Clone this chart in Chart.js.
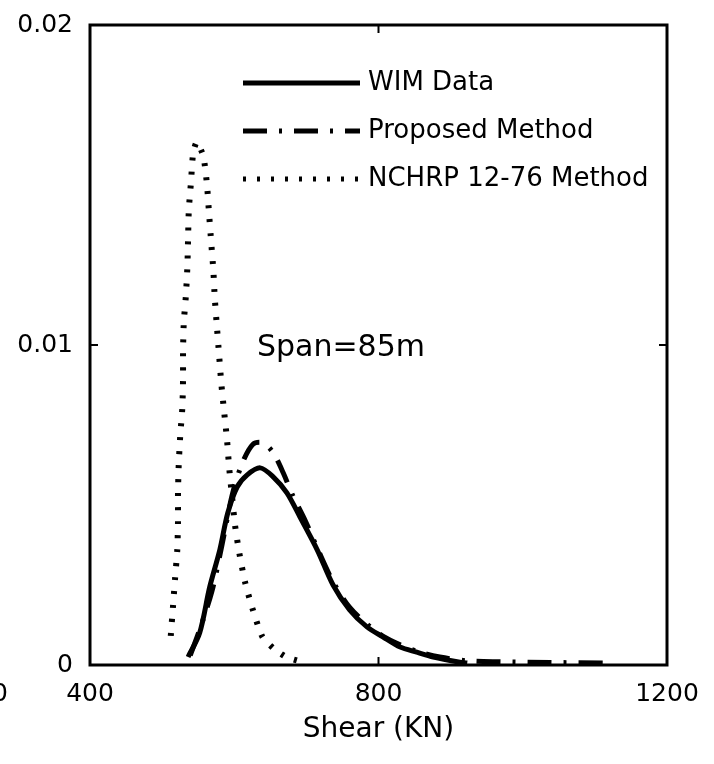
<!DOCTYPE html>
<html>
<head>
<meta charset="utf-8">
<script src="https://cdn.jsdelivr.net/npm/chart.js@4.4.1/dist/chart.umd.min.js"></script>
<style>
  html, body { margin: 0; padding: 0; background: #fff; }
</style>
</head>
<body>
<canvas id="myChart" width="714" height="764"></canvas>
<script>
// values
const shearTicks = [400, 800, 1200];
const densityTicks = [0, 0.01, 0.02];

const wimX = [536, 552, 566, 580, 591, 604, 618, 636, 654, 673, 691, 715, 737, 760, 784, 806, 830, 853, 876, 909, 923];
const wimY = [0.00025, 0.001, 0.00244, 0.0036, 0.00475, 0.00556, 0.00594, 0.00616, 0.00588, 0.00538, 0.00463, 0.0036, 0.0025, 0.00172, 0.00119, 0.00088, 0.00056, 0.0004, 0.00025, 0.0001, 0.00006];

const propX = [539, 552, 569, 583, 597, 611, 626, 640, 654, 668, 681, 698, 715, 737, 760, 784, 806, 830, 857, 885, 923, 968, 1038, 1116];
const propY = [0.0003, 0.0011, 0.0023, 0.00375, 0.0053, 0.0063, 0.0069, 0.00694, 0.00663, 0.006, 0.0053, 0.00453, 0.00366, 0.0026, 0.0018, 0.00128, 0.0009, 0.00063, 0.0004, 0.00025, 0.00013, 0.0001, 0.00008, 0.00006];

const nchrpX = [512, 515, 518, 521, 522, 522, 523, 525, 528, 529, 529, 530, 533, 535, 536, 537, 540, 543, 548, 557, 562, 565, 568, 571, 573, 576, 579, 582, 586, 590, 593, 597, 601, 607, 615, 625, 639, 654, 672, 693];
const nchrpY = [0.00091, 0.00181, 0.00272, 0.00359, 0.00447, 0.00538, 0.00625, 0.00713, 0.00803, 0.00891, 0.00978, 0.01069, 0.01156, 0.01244, 0.01334, 0.01422, 0.01509, 0.016, 0.01634, 0.01591, 0.01506, 0.01413, 0.01322, 0.01234, 0.01147, 0.01056, 0.00969, 0.00881, 0.00791, 0.00703, 0.00616, 0.00525, 0.00438, 0.0035, 0.00259, 0.00178, 0.00088, 0.00053, 0.00025, 0.0001];

const seriesNames = ["WIM Data", "Proposed Method", "NCHRP 12-76 Method"];
const noteText = "Span=85m";

function pts(xs, ys) { return xs.map((x, i) => ({x: x, y: ys[i]})); }

const FONT = "'DejaVu Sans'";

// frame, inner ticks, legend and note
const decor = {
  id: 'decor',
  afterDraw(chart) {
    const {ctx, chartArea: a, scales: {x, y}} = chart;
    ctx.save();
    ctx.strokeStyle = '#000';
    ctx.lineWidth = 3;
    ctx.strokeRect(a.left, a.top, a.right - a.left, a.bottom - a.top);

    ctx.lineWidth = 2;
    const ty = y.getPixelForValue(densityTicks[1]);
    const tx = x.getPixelForValue(shearTicks[1]);
    ctx.beginPath();
    ctx.moveTo(a.left, ty); ctx.lineTo(a.left + 8, ty);
    ctx.moveTo(a.right, ty); ctx.lineTo(a.right - 8, ty);
    ctx.moveTo(tx, a.top); ctx.lineTo(tx, a.top + 8);
    ctx.moveTo(tx, a.bottom); ctx.lineTo(tx, a.bottom - 8);
    ctx.stroke();

    // legend
    const rows = [83, 131, 179];
    chart.data.datasets.forEach((ds, i) => {
      ctx.lineWidth = Math.min(ds.borderWidth, 5);
      ctx.lineCap = 'butt';
      ctx.setLineDash(ds.borderDash || []);
      ctx.beginPath();
      ctx.moveTo(243, rows[i]); ctx.lineTo(360, rows[i]);
      ctx.stroke();
      ctx.setLineDash([]);
      ctx.fillStyle = '#000';
      ctx.font = "26px " + FONT;
      ctx.textBaseline = 'middle';
      ctx.textAlign = 'left';
      ctx.fillText(ds.label, 368, rows[i]);
    });

    ctx.font = "30px " + FONT;
    ctx.fillText(noteText, 257, 348);

    // clipped label of the neighbouring panel
    ctx.font = "25px " + FONT;
    ctx.fillText("0", -8, 694);
    ctx.restore();
  }
};

function noPad(s) { s.paddingTop = 0; s.paddingBottom = 0; s.paddingLeft = 0; s.paddingRight = 0; }

new Chart(document.getElementById('myChart'), {
  type: 'scatter',
  data: {
    datasets: [
      { label: seriesNames[0], data: pts(wimX, wimY), borderColor: '#000', borderWidth: 5, tension: 0.3 },
      { label: seriesNames[1], data: pts(propX, propY), borderColor: '#000', borderWidth: 5, borderDash: [24, 12, 3, 12], tension: 0.3 },
      { label: seriesNames[2], data: pts(nchrpX, nchrpY), borderColor: '#000', borderWidth: 6, borderDash: [3, 11], tension: 0.2 }
    ]
  },
  options: {
    responsive: false,
    animation: false,
    showLine: true,
    elements: { point: { radius: 0 }, line: { fill: false, borderCapStyle: 'butt' } },
    layout: { padding: { left: 0, right: 47, top: 25, bottom: 0 } },
    plugins: { legend: { display: false }, tooltip: { enabled: false } },
    scales: {
      x: {
        type: 'linear',
        min: shearTicks[0], max: shearTicks[2],
        afterBuildTicks: s => { s.ticks = shearTicks.map(v => ({value: v})); },
        afterFit: s => { s.height = 99; noPad(s); },
        grid: { display: false, drawTicks: false },
        border: { display: false },
        ticks: { color: '#000', padding: 14, font: { family: FONT, size: 25 }, maxRotation: 0,
          callback: v => String(v) },
        title: { display: true, text: 'Shear (KN)', color: '#000', font: { family: FONT, size: 28 }, padding: { top: 0, bottom: 17 } }
      },
      y: {
        type: 'linear',
        min: densityTicks[0], max: densityTicks[2],
        afterBuildTicks: s => { s.ticks = densityTicks.map(v => ({value: v})); },
        afterFit: s => { s.width = 90; noPad(s); },
        grid: { display: false, drawTicks: false },
        border: { display: false },
        ticks: { color: '#000', padding: 17, font: { family: FONT, size: 25 },
          callback: v => v === 0 ? '0' : v.toFixed(2) }
      }
    }
  },
  plugins: [decor]
});
</script>
</body>
</html>
